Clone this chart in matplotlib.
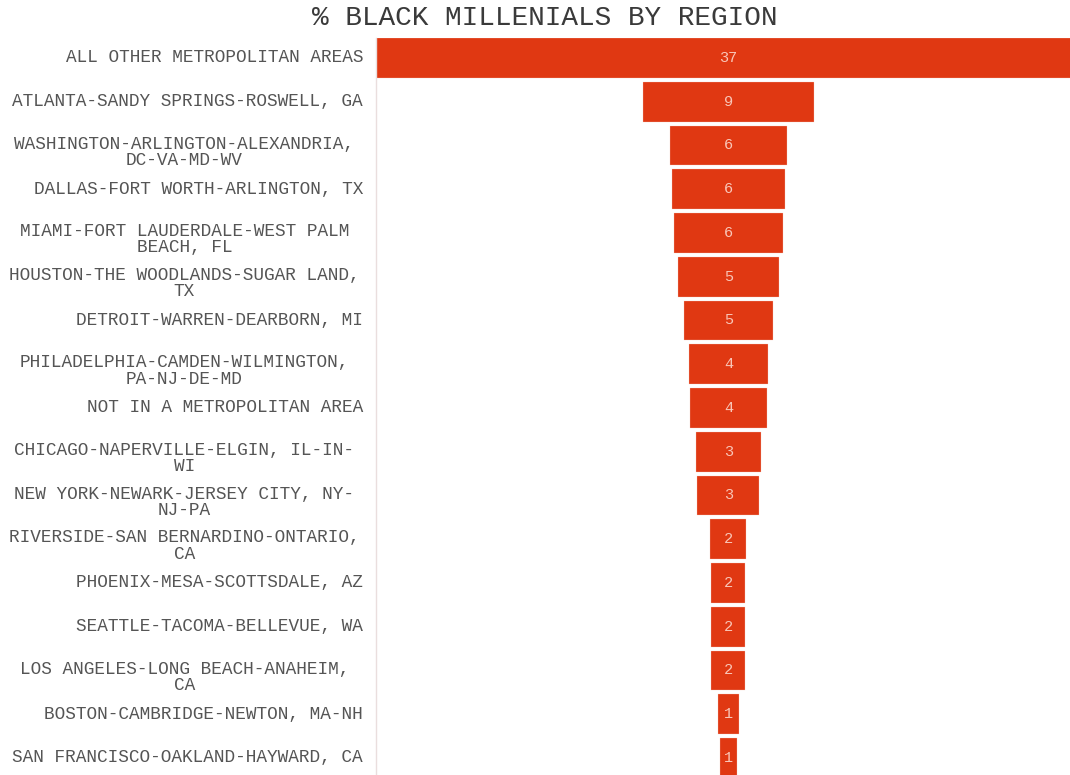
"""
Funnel-style bar chart of black millenials by region.
"""
import matplotlib.pyplot as plt

regions = [
    "ALL OTHER METROPOLITAN AREAS",
    "ATLANTA-SANDY SPRINGS-ROSWELL, GA",
    "WASHINGTON-ARLINGTON-ALEXANDRIA,\nDC-VA-MD-WV",
    "DALLAS-FORT WORTH-ARLINGTON, TX",
    "MIAMI-FORT LAUDERDALE-WEST PALM\nBEACH, FL",
    "HOUSTON-THE WOODLANDS-SUGAR LAND,\nTX",
    "DETROIT-WARREN-DEARBORN, MI",
    "PHILADELPHIA-CAMDEN-WILMINGTON,\nPA-NJ-DE-MD",
    "NOT IN A METROPOLITAN AREA",
    "CHICAGO-NAPERVILLE-ELGIN, IL-IN-\nWI",
    "NEW YORK-NEWARK-JERSEY CITY, NY-\nNJ-PA",
    "RIVERSIDE-SAN BERNARDINO-ONTARIO,\nCA",
    "PHOENIX-MESA-SCOTTSDALE, AZ",
    "SEATTLE-TACOMA-BELLEVUE, WA",
    "LOS ANGELES-LONG BEACH-ANAHEIM,\nCA",
    "BOSTON-CAMBRIDGE-NEWTON, MA-NH",
    "SAN FRANCISCO-OAKLAND-HAYWARD, CA",
]
pct = [37.4, 9.12, 6.21, 6.0, 5.78, 5.36, 4.72, 4.24, 4.08,
       3.40, 3.29, 1.91, 1.80, 1.80, 1.80, 1.11, 0.90]

BAR = "#e03812"
TXT = "#555555"
FONT = "Liberation Mono"

fig = plt.figure(figsize=(10.7, 7.75), dpi=100)
ax = fig.add_axes([376 / 1070, 0, 694 / 1070, 737 / 775])

ypos = list(range(len(pct)))
ax.barh(ypos, pct, left=[-v / 2 for v in pct], height=0.91, color=BAR,
        edgecolor="#f4c9bd", linewidth=0.2)

for i, v in enumerate(pct):
    ax.text(0, i, f"{round(v)}", ha="center", va="center", fontsize=11,
            family=FONT, color="#f9c6b8")

# region labels: single lines right aligned, wrapped ones centred
ytrans = ax.get_yaxis_transform()
for i, name in enumerate(regions):
    lines = name.split("\n")
    if len(lines) == 1:
        ax.text(-0.0187, i, name, transform=ytrans, ha="right", va="center",
                fontsize=12.8, family=FONT, color=TXT)
    else:
        for k, line in enumerate(lines):
            ax.text(-0.276, i - 0.03 + k * 0.37, line, transform=ytrans,
                    ha="center", va="center", fontsize=12.8, family=FONT,
                    color=TXT)

vmax = max(pct)
ax.set_xlim(-vmax / 2, vmax / 2 * 0.969)
ax.set_ylim((775 - 58) / 43.75, -0.457)
ax.set_xticks([])
ax.set_yticks([])
for side in ["top", "right", "bottom"]:
    ax.spines[side].set_visible(False)
ax.spines["left"].set_color("#eadede")
ax.spines["left"].set_linewidth(1)

fig.text(545 / 1070, 1 - 18 / 775, "% BLACK MILLENIALS BY REGION", ha="center",
         va="center", fontsize=20, family=FONT, color="#3a3a3a")

fig.savefig("out.png", dpi=100)
